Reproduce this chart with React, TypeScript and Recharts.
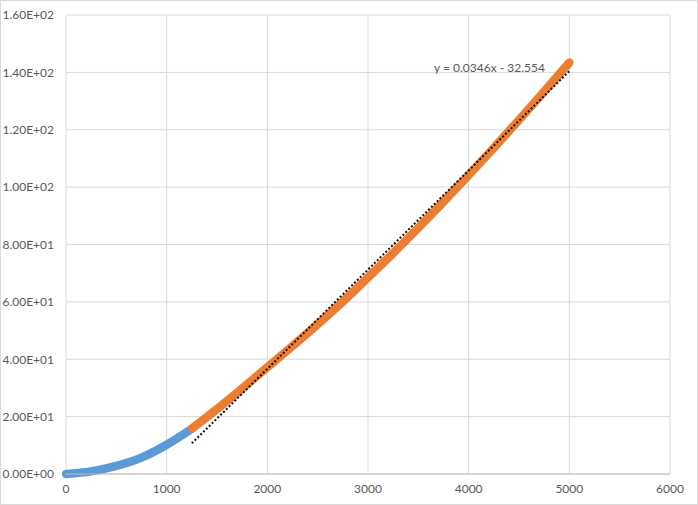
import React from 'react';
import { LineChart, Line, XAxis, YAxis, CartesianGrid } from 'recharts';

// Series 1 (blue): x values and y values
const blueX = [0, 250, 500, 750, 1000, 1250];
const blueY = [0, 0.9, 2.8, 5.7, 10.2, 15.8];

// Series 2 (orange)
const orangeX = [1250, 1500, 1750, 2000, 2250, 2500, 2750, 3000, 3250, 3500, 3750, 4000, 4250, 4500, 4750, 5000];
const orangeY = [15.8, 22.6, 29.8, 37.2, 44.6, 52.2, 60.1, 68.5, 77.0, 85.8, 94.9, 104.2, 113.7, 123.4, 133.3, 143.4];

// Linear trendline of series 2
const trendSlope = 0.0346;
const trendIntercept = -32.554;
const trendXRange = [1250, 5000];
const trendLabel = 'y = 0.0346x - 32.554';

// Axes
const xTicks = [0, 1000, 2000, 3000, 4000, 5000, 6000];
const yTicks = [0, 20, 40, 60, 80, 100, 120, 140, 160];
const yTickLabels = ['0.00E+00', '2.00E+01', '4.00E+01', '6.00E+01', '8.00E+01', '1.00E+02', '1.20E+02', '1.40E+02', '1.60E+02'];

const blueData = blueX.map((x, i) => ({ x, y: blueY[i] }));
const orangeData = orangeX.map((x, i) => ({ x, y: orangeY[i] }));
const trendData = trendXRange.map((x) => ({ x, y: trendSlope * x + trendIntercept }));

const FONT = 'Lato, "Open Sans", sans-serif';
const tickStyle = { fill: '#595959', fontSize: 12, fontFamily: FONT };

export default function App() {
  return (
    <div
      style={{
        position: 'absolute',
        left: 0,
        top: 0,
        width: 698,
        height: 505,
        boxSizing: 'border-box',
        border: '1px solid #d9d9d9',
        background: '#fff',
      }}
    >
      <LineChart
        width={696}
        height={503}
        margin={{ top: 14, right: 27, left: 0, bottom: 0 }}
      >
        <CartesianGrid stroke="#d9d9d9" strokeWidth={1} />
        <XAxis
          type="number"
          dataKey="x"
          domain={[0, 6000]}
          ticks={xTicks}
          interval={0}
          height={30}
          axisLine={{ stroke: '#bfbfbf' }}
          tickLine={false}
          tickMargin={4.5}
          tick={tickStyle}
        />
        <YAxis
          type="number"
          dataKey="y"
          domain={[0, 160]}
          ticks={yTicks}
          interval={0}
          width={65}
          axisLine={false}
          tickLine={false}
          tickMargin={6}
          tick={tickStyle}
          tickFormatter={(v: number) => yTickLabels[yTicks.indexOf(v)] ?? String(v)}
        />
        <Line
          data={blueData}
          dataKey="y"
          type="monotone"
          stroke="#5B9BD5"
          strokeWidth={8.5}
          strokeLinecap="round"
          dot={false}
          activeDot={false}
          isAnimationActive={false}
        />
        <Line
          data={orangeData}
          dataKey="y"
          type="monotone"
          stroke="#ED7D31"
          strokeWidth={8.5}
          strokeLinecap="round"
          dot={false}
          activeDot={false}
          isAnimationActive={false}
        />
        <Line
          data={trendData}
          dataKey="y"
          type="linear"
          stroke="#111111"
          strokeWidth={2}
          strokeDasharray="2 2"
          dot={false}
          activeDot={false}
          isAnimationActive={false}
        />
      </LineChart>
      <div
        style={{
          position: 'absolute',
          left: 433,
          top: 59,
          fontFamily: FONT,
          fontSize: 12,
          lineHeight: '15px',
          color: '#595959',
          whiteSpace: 'nowrap',
        }}
      >
        {trendLabel}
      </div>
    </div>
  );
}
